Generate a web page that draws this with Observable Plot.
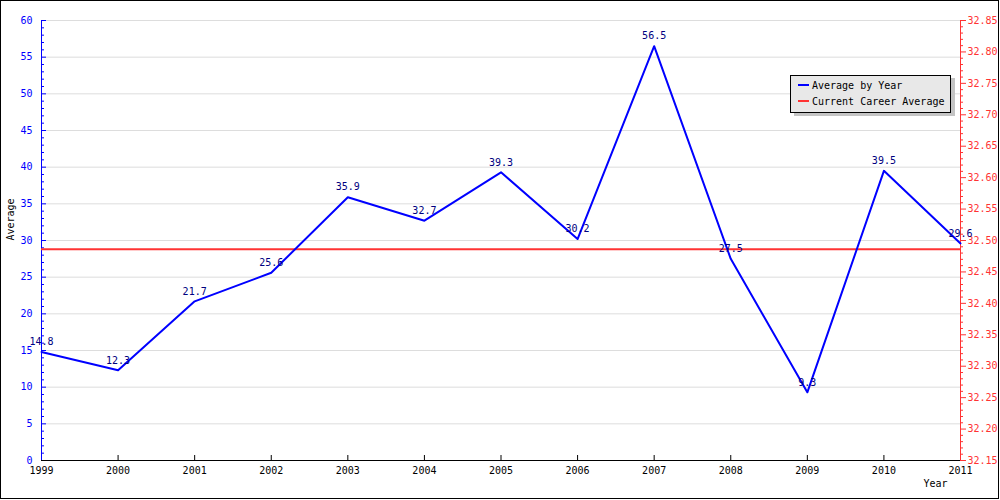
<!DOCTYPE html>
<html>
<head>
<meta charset="utf-8">
<script src="https://cdn.jsdelivr.net/npm/d3@7"></script>
<script src="https://cdn.jsdelivr.net/npm/@observablehq/plot@0.6"></script>
<style>
  html, body { margin: 0; padding: 0; background: #fff; }
  #wrap { position: relative; width: 1000px; height: 500px; font-family: "DejaVu Sans Mono", monospace; }
  #border { position: absolute; left: 0; top: 0; width: 999px; height: 499px; box-sizing: border-box; border: 1px solid #000; pointer-events: none; }
  #legend-shadow { position: absolute; left: 794px; top: 78px; width: 161px; height: 38px; background: #c4c4c4; }
  #legend { position: absolute; left: 790px; top: 75px; width: 161px; height: 38px; box-sizing: border-box; background: #e8e8e8; border: 1px solid #000; font-size: 10px; }
  .row { position: absolute; left: 7px; height: 12px; line-height: 12px; white-space: nowrap; color: #000; }
  .sw { display: inline-block; width: 11px; height: 2px; vertical-align: middle; margin-right: 3px; position: relative; top: -1px; }
</style>
</head>
<body>
<div id="wrap">
  <div id="chart"></div>
  <div id="legend-shadow"></div>
  <div id="legend"></div>
  <div id="border"></div>
</div>
<script>
const years = [1999, 2000, 2001, 2002, 2003, 2004, 2005, 2006, 2007, 2008, 2009, 2010, 2011];
const averages = [14.8, 12.3, 21.7, 25.6, 35.9, 32.7, 39.3, 30.2, 56.5, 27.5, 9.3, 39.5, 29.6];
const careerAverage = 32.486; // read on the right axis
const leftTicks = [0, 5, 10, 15, 20, 25, 30, 35, 40, 45, 50, 55, 60];
const rightDomain = [32.15, 32.85];
const rightTicks = [32.15, 32.20, 32.25, 32.30, 32.35, 32.40, 32.45, 32.50, 32.55, 32.60, 32.65, 32.70, 32.75, 32.80, 32.85];
const seriesNames = ["Average by Year", "Current Career Average"];

const blue = "#0000ff";
const red = "#ff3333";
const labelColor = "#000080";

const leftDomain = [0, 60];
const toLeft = v => (v - rightDomain[0]) / (rightDomain[1] - rightDomain[0]) * (leftDomain[1] - leftDomain[0]) + leftDomain[0];
const fromLeft = y => (y - leftDomain[0]) / (leftDomain[1] - leftDomain[0]) * (rightDomain[1] - rightDomain[0]) + rightDomain[0];

const data = years.map((year, i) => ({year, avg: averages[i]}));
const leftMinor = d3.range(leftDomain[0], leftDomain[1] + 0.5, 1).filter(v => v % 5 !== 0);
const rightMinor = d3.range(0, 71).map(i => rightDomain[0] + i * 0.01).filter((v, i) => i % 5 !== 0).map(toLeft);
const rightMajor = rightTicks.map(toLeft);

const frameW = 1000 - 41 - 40;
const frameH = 500 - 20 - 40;

const chart = Plot.plot({
  width: 1000,
  height: 500,
  marginLeft: 41,
  marginRight: 40,
  marginTop: 20,
  marginBottom: 40,
  style: {fontFamily: "DejaVu Sans Mono, monospace", fontSize: "10px", background: "#fff", overflow: "visible"},
  x: {domain: [years[0], years[years.length - 1]]},
  y: {domain: leftDomain},
  marks: [
    // grid
    Plot.ruleY(leftTicks.filter(v => v > 0), {stroke: "#dddddd", strokeWidth: 1}),
    // axis labels
    Plot.axisX(years, {tickSize: 0, tickPadding: 6, tickFormat: d => String(d), fill: "#000", label: null}),
    Plot.axisY(leftTicks, {anchor: "left", tickSize: 0, tickPadding: 9, fill: blue, label: null}),
    Plot.axisY(rightMajor, {anchor: "right", tickSize: 0, tickPadding: 7, fill: red, label: null, tickFormat: d => fromLeft(d).toFixed(2)}),
    // ticks
    Plot.ruleX(years.slice(1, -1), {stroke: "#000", insetTop: frameH - 5}),
    Plot.ruleY(leftTicks, {stroke: blue, insetRight: frameW - 5}),
    Plot.ruleY(leftMinor, {stroke: blue, insetRight: frameW - 3}),
    Plot.ruleY(rightMajor, {stroke: red, insetLeft: frameW - 6, dx: 6}),
    Plot.ruleY(rightMinor, {stroke: red, insetLeft: frameW - 3, dx: 3}),
    // axis lines
    Plot.ruleX([years[0]], {stroke: blue, strokeWidth: 1}),
    Plot.ruleX([years[years.length - 1]], {stroke: red, strokeWidth: 1}),
    Plot.ruleY([0], {stroke: "#000", strokeWidth: 1}),
    // titles
    Plot.text(["Average"], {frameAnchor: "left", dx: -31, rotate: -90, fill: "#000"}),
    Plot.text(["Year"], {frameAnchor: "bottom-right", dx: -13, dy: 26, fill: "#000"}),
    // career average
    Plot.ruleY([toLeft(careerAverage)], {stroke: red, strokeWidth: 2}),
    // series
    Plot.line(data, {x: "year", y: "avg", stroke: blue, strokeWidth: 2}),
    Plot.text(data, {x: "year", y: "avg", text: d => d.avg.toFixed(1), dy: -10, fill: labelColor})
  ]
});
document.getElementById("chart").appendChild(chart);

const legend = document.getElementById("legend");
[blue, red].forEach((c, i) => {
  const row = document.createElement("div");
  row.className = "row";
  row.style.top = (4 + i * 16) + "px";
  row.innerHTML = `<span class="sw" style="background:${c}"></span>${seriesNames[i]}`;
  legend.appendChild(row);
});
</script>
</body>
</html>
